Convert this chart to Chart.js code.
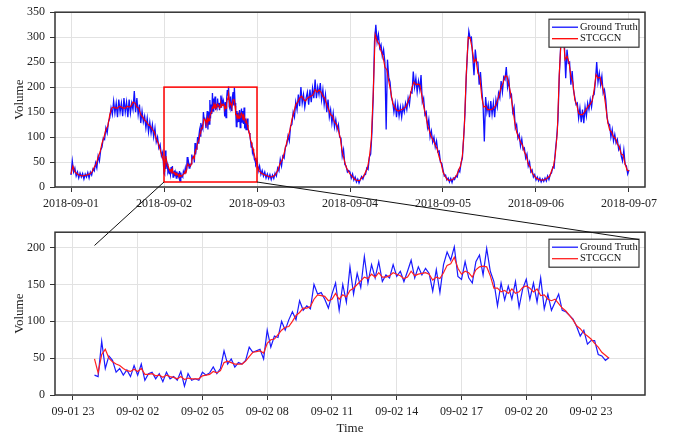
<!DOCTYPE html>
<html>
<head>
<meta charset="utf-8">
<script src="https://cdn.jsdelivr.net/npm/chart.js@4.4.1/dist/chart.umd.min.js"></script>
<style>
  html, body { margin: 0; padding: 0; background: #fff; }
  #wrap { position: relative; width: 679px; height: 436px; }
  #wrap canvas { position: absolute; left: 0; }
</style>
</head>
<body>
<div id="wrap">
  <canvas id="topChart" width="679" height="220" style="top:0"></canvas>
  <canvas id="zoomChart" width="679" height="216" style="top:220px"></canvas>
  <canvas id="links" width="679" height="436" style="top:0;pointer-events:none"></canvas>
</div>
<script>
// tick labels
const dayLabels = ['2018-09-01', '2018-09-02', '2018-09-03', '2018-09-04', '2018-09-05', '2018-09-06', '2018-09-07'];
const dayTickHours = [0, 24, 48, 72, 96, 120, 144];
const zoomLabels = ['09-01 23', '09-02 02', '09-02 05', '09-02 08', '09-02 11', '09-02 14', '09-02 17', '09-02 20', '09-02 23'];
const zoomTickHours = [23, 26, 29, 32, 35, 38, 41, 44, 47];
const topYTicks = [0, 50, 100, 150, 200, 250, 300, 350];
const zoomYTicks = [0, 50, 100, 150, 200];

// 09-02 in detail, one sample every 10 minutes from 00:00
const zoomTruth = [
  27, 25, 73, 36, 53, 47,  31, 36, 27, 34, 25, 40,  27, 42, 20, 29, 31, 22,
  29, 18, 31, 22, 25, 20,  32, 12, 29, 20, 22, 20,  31, 27, 30, 38, 29, 36,
  60, 42, 49, 38, 44, 42,  47, 65, 58, 60, 62, 49,  88, 65, 80, 78, 100, 88,
  102, 113, 102, 128, 115, 121,  117, 150, 137, 139, 130, 118,  137, 152, 115, 150, 126, 174,
  137, 165, 146, 188, 152, 177,  159, 181, 154, 163, 159, 177,  161, 168, 154, 168, 183, 159,
  174, 163, 172, 165, 141, 170,  139, 177, 194, 183, 201, 161,  157, 181, 159, 152, 181, 190,
  163, 199, 168, 154, 121, 152,  129, 148, 130, 154, 119, 144,  157, 130, 152, 126, 159, 117,
  137, 115, 126, 137, 115, 113,  108, 103, 93, 80, 88, 69,  74, 74, 55, 53, 47, 51
];
const zoomPred = [
  49, 30, 55, 62, 50, 45,  42, 40, 36, 33, 32, 35,  32, 36, 28, 28, 29, 26,
  27, 24, 27, 25, 24, 22,  25, 21, 23, 22, 22, 22,  26, 27, 28, 32, 30, 33,
  44, 46, 44, 42, 42, 42,  46, 52, 58, 59, 60, 57,  70, 75, 76, 82, 88, 92,
  93, 100, 108, 112, 118, 118,  120, 130, 136, 135, 134, 128,  130, 138, 130, 136, 133, 142,
  145, 150, 155, 160, 158, 164,  160, 166, 160, 160, 162, 166,  164, 162, 158, 160, 168, 162,
  164, 165, 166, 164, 156, 160,  158, 166, 176, 178, 187, 172,  164, 168, 166, 160, 170, 174,
  175, 174, 162, 145, 145, 140,  142, 138, 144, 138, 140, 146,  148, 145, 140, 144, 135, 136,
  130, 128, 130, 124, 118, 114,  108, 102, 94, 90, 84, 80,  76, 70, 65, 58, 54, 50
];

// ground truth, one sample every 20 minutes per day
const truthSep01 = [
  24, 52, 30, 38, 22, 30, 18, 28, 20, 27, 16, 26, 20, 29, 18, 30, 24, 36,
  32, 48, 38, 62, 52, 74, 80, 98, 95, 118, 108, 130, 138, 158, 145, 172, 148, 168,
  140, 175, 150, 168, 142, 178, 150, 170, 140, 175, 148, 168, 155, 192, 150, 178, 145, 165,
  128, 152, 130, 142, 118, 138, 110, 130, 108, 125, 100, 118, 90, 100, 78, 85, 62, 70
];
const truthSep02 = zoomTruth;
const truthSep03 = [
  55, 32, 42, 25, 33, 22, 30, 18, 26, 17, 25, 15, 24, 17, 28, 22, 38, 32,
  55, 42, 62, 58, 80, 84, 102, 92, 122, 125, 150, 140, 170, 155, 185, 162, 200, 168,
  185, 160, 178, 190, 165, 195, 170, 198, 178, 215, 178, 200, 185, 208, 175, 195, 165, 185,
  150, 175, 140, 155, 128, 148, 120, 135, 115, 125, 100, 98, 62, 75, 45, 42, 30, 33
];
const truthSep04 = [
  30, 18, 26, 14, 20, 10, 16, 8, 15, 21, 16, 24, 25, 38, 35, 60, 66, 110,
  180, 292, 325, 290, 305, 278, 285, 262, 275, 250, 115, 255, 220, 210, 180, 172, 150, 168,
  140, 165, 142, 160, 140, 162, 150, 168, 155, 178, 165, 190, 188, 231, 200, 218, 190, 212,
  195, 224, 170, 178, 145, 150, 120, 135, 100, 112, 90, 100, 80, 92, 70, 72, 50, 48
];
const truthSep05 = [
  35, 22, 24, 14, 18, 10, 17, 9, 18, 15, 22, 20, 34, 30, 48, 58, 98, 146,
  220, 272, 312, 298, 300, 262, 224, 275, 250, 250, 205, 230, 195, 165, 91, 180, 150, 165,
  140, 172, 145, 168, 140, 175, 160, 188, 178, 212, 190, 220, 215, 240, 200, 215, 180, 185,
  150, 160, 118, 125, 98, 105, 82, 96, 75, 78, 58, 66, 42, 50, 30, 34, 20, 25
];
const truthSep06 = [
  14, 20, 12, 18, 10, 16, 11, 18, 12, 22, 15, 25, 28, 40, 38, 72, 98, 134,
  220, 276, 315, 320, 285, 218, 275, 248, 250, 205, 232, 195, 180, 165, 168, 138, 158, 130,
  155, 128, 160, 142, 168, 155, 175, 160, 182, 185, 212, 250, 210, 228, 205, 222, 188, 195,
  175, 140, 127, 125, 100, 115, 92, 105, 88, 95, 75, 82, 62, 52, 74, 45, 42, 26
];
const truthSep07 = [34];

// STCGCN prediction, one sample every 30 minutes per day
const predSep01 = [
  26, 42, 30, 27, 24, 23, 22, 23, 24, 25, 27, 31, 40, 46, 60, 70, 88, 100, 115, 122, 145, 158, 160, 158,
  158, 162, 160, 158, 158, 162, 160, 162, 170, 168, 160, 158, 145, 140, 134, 130, 124, 122, 115, 110, 96, 88, 75, 62
];
const predSep02 = zoomPred;
const predSep03 = [
  45, 33, 28, 26, 24, 23, 21, 20, 21, 23, 28, 36, 48, 54, 68, 84, 100, 114, 135, 150, 165, 170, 178, 182,
  176, 172, 178, 180, 182, 185, 195, 190, 194, 190, 182, 178, 165, 155, 145, 142, 130, 126, 114, 98, 70, 55, 40, 32
];
const predSep04 = [
  26, 22, 17, 14, 13, 13, 18, 21, 30, 38, 60, 95, 190, 305, 292, 286, 272, 262, 240, 235, 212, 192, 168, 160,
  154, 152, 154, 155, 158, 162, 172, 182, 200, 210, 205, 206, 205, 185, 162, 145, 125, 112, 100, 93, 84, 76, 60, 48
];
const predSep05 = [
  30, 22, 16, 13, 14, 15, 19, 23, 33, 42, 62, 120, 225, 300, 298, 278, 250, 256, 228, 220, 180, 160, 162, 155,
  155, 155, 158, 162, 172, 185, 200, 208, 222, 222, 206, 185, 158, 130, 110, 100, 90, 84, 70, 62, 46, 40, 28, 23
];
const predSep06 = [
  18, 16, 14, 14, 14, 15, 19, 21, 32, 41, 66, 110, 225, 300, 305, 255, 262, 250, 222, 210, 175, 165, 148, 145,
  145, 150, 156, 162, 166, 172, 195, 225, 218, 220, 205, 190, 162, 130, 114, 110, 100, 98, 86, 80, 66, 64, 46, 34
];
const predSep07 = [32];

const truthDays = [truthSep01, truthSep02, truthSep03, truthSep04, truthSep05, truthSep06, truthSep07];
const predDays = [predSep01, predSep02, predSep03, predSep04, predSep05, predSep06, predSep07];

// hours since 2018-09-01 00:00; each day's samples are evenly spaced over its 24 hours
function dayPoints(days) {
  const pts = [];
  days.forEach((arr, d) => {
    const step = 24 / Math.max(arr.length, 24);
    arr.forEach((v, i) => pts.push({ x: d * 24 + i * step, y: v }));
  });
  return pts;
}
function zoomPoints(arr) {
  return arr.map((v, i) => ({ x: 24 + i / 6, y: v }));
}

Chart.defaults.font.family = "'Liberation Serif', 'Times New Roman', serif";
Chart.defaults.font.size = 12;
Chart.defaults.color = '#222';

// box around plot, zoom rectangle, legend
const framePlugin = {
  id: 'frame',
  afterDatasetsDraw(chart, args, opts) {
    const { ctx, chartArea: a, scales } = chart;
    ctx.save();
    if (opts.box) {
      const b = opts.box;
      const x0 = scales.x.getPixelForValue(b.x0), x1 = scales.x.getPixelForValue(b.x1);
      const y0 = scales.y.getPixelForValue(b.y0), y1 = scales.y.getPixelForValue(b.y1);
      ctx.strokeStyle = '#ff0000';
      ctx.lineWidth = 1.5;
      ctx.strokeRect(x0, y1, x1 - x0, y0 - y1);
    }
    ctx.strokeStyle = '#333';
    ctx.lineWidth = 1.5;
    ctx.strokeRect(a.left, a.top, a.width, a.height);

    const lx = a.right - 96, ly = a.top + 7, w = 90, h = 28;
    ctx.fillStyle = '#fff';
    ctx.fillRect(lx, ly, w, h);
    ctx.lineWidth = 1.2;
    ctx.strokeStyle = '#333';
    ctx.strokeRect(lx, ly, w, h);
    ctx.font = "10.5px 'Liberation Serif', serif";
    ctx.textBaseline = 'middle';
    chart.data.datasets.forEach((ds, i) => {
      const yy = ly + 8 + i * 11.5;
      ctx.strokeStyle = ds.borderColor;
      ctx.lineWidth = 1.3;
      ctx.beginPath();
      ctx.moveTo(lx + 3, yy);
      ctx.lineTo(lx + 29, yy);
      ctx.stroke();
      ctx.fillStyle = '#111';
      ctx.fillText(ds.label, lx + 31, yy);
    });
    ctx.restore();
  }
};

function makeOptions(xMin, xMax, xTicks, xLabels, yMax, yTicks, xHeight, xTitle, box) {
  return {
    responsive: false,
    animation: false,
    layout: { padding: { left: 0, right: 34, top: 7, bottom: 0 } },
    plugins: { legend: { display: false }, tooltip: { enabled: false }, frame: { box: box } },
    elements: { point: { radius: 0 }, line: { tension: 0 } },
    scales: {
      x: {
        type: 'linear',
        min: xMin,
        max: xMax,
        afterBuildTicks: s => { s.ticks = xTicks.map(v => ({ value: v })); },
        afterFit: s => { s.height = xHeight; },
        grid: { color: '#e2e2e2', tickColor: '#333', tickLength: 5 },
        border: { display: false },
        ticks: { padding: 5, maxRotation: 0, autoSkip: false, callback: (v, i) => xLabels[i] },
        title: { display: !!xTitle, text: xTitle, font: { size: 13 }, padding: { top: 1, bottom: 0 } }
      },
      y: {
        min: 0,
        max: yMax,
        afterBuildTicks: s => { s.ticks = yTicks.map(v => ({ value: v })); },
        afterFit: s => { s.width = 55; },
        grid: { color: '#e2e2e2', tickColor: '#333', tickLength: 5 },
        border: { display: false },
        ticks: { padding: 5 },
        title: { display: true, text: 'Volume', font: { size: 13 }, padding: { top: 12, bottom: 0 } }
      }
    }
  };
}

const topChart = new Chart(document.getElementById('topChart'), {
  type: 'line',
  data: {
    datasets: [
      { label: 'Ground Truth', data: dayPoints(truthDays), borderColor: '#1010ff', borderWidth: 1.3, order: 2 },
      { label: 'STCGCN', data: dayPoints(predDays), borderColor: '#ff0000', borderWidth: 1.1, order: 1 }
    ]
  },
  options: makeOptions(-4.13, 148.13, dayTickHours, dayLabels, 350, topYTicks, 33, '',
    { x0: 24, x1: 48, y0: 10, y1: 200 }),
  plugins: [framePlugin]
});

const zoomChart = new Chart(document.getElementById('zoomChart'), {
  type: 'line',
  data: {
    datasets: [
      { label: 'Ground Truth', data: zoomPoints(zoomTruth), borderColor: '#1a1aff', borderWidth: 1.2, order: 2 },
      { label: 'STCGCN', data: zoomPoints(zoomPred), borderColor: '#ff2020', borderWidth: 1.2, order: 1 }
    ]
  },
  options: makeOptions(22.17, 49.5, zoomTickHours, zoomLabels, 221, zoomYTicks, 41, 'Time', null),
  plugins: [framePlugin]
});

// connector lines from the zoom box to the detail panel
const lctx = document.getElementById('links').getContext('2d');
const tx = topChart.scales.x, ty = topChart.scales.y;
const zx = zoomChart.scales.x, zy = zoomChart.scales.y;
lctx.strokeStyle = '#111';
lctx.lineWidth = 1;
lctx.beginPath();
lctx.moveTo(tx.getPixelForValue(24), ty.getPixelForValue(10));
lctx.lineTo(zx.getPixelForValue(24), 220 + zy.getPixelForValue(203));
lctx.moveTo(tx.getPixelForValue(48), ty.getPixelForValue(10));
lctx.lineTo(zx.getPixelForValue(49.22), 220 + zy.getPixelForValue(211));
lctx.stroke();
</script>
</body>
</html>
